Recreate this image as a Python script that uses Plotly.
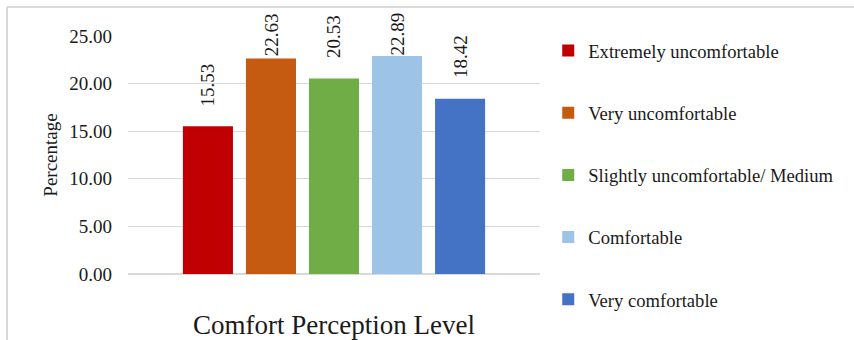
import plotly.graph_objects as go

# Survey result: share of respondents by comfort perception level
category = ["Comfort Perception Level"]
levels = [
    "Extremely uncomfortable",
    "Very uncomfortable",
    "Slightly uncomfortable/ Medium",
    "Comfortable",
    "Very comfortable",
]
percentages = [15.53, 22.63, 20.53, 22.89, 18.42]
colors = ["#C00000", "#C55A11", "#70AD47", "#9DC3E6", "#4472C4"]
y_ticks = [0, 5, 10, 15, 20, 25]

FONT = "Liberation Serif, Times New Roman, serif"
TXT = "#1a1a1a"

fig = go.Figure()
for i, (name, val, col) in enumerate(zip(levels, percentages, colors)):
    fig.add_trace(go.Bar(
        x=category, y=[val], name=name, marker=dict(color=col, line=dict(width=0)),
        legendgroup=f"g{i}", hoverinfo="skip",
    ))

# rotated value labels above each bar (positions follow the grouped bar slots)
BARGAP = 0.235
n = len(levels)
slot = (1 - BARGAP) / n
for i, val in enumerate(percentages):
    xpos = -0.5 * (1 - BARGAP) + slot * (i + 0.5)
    fig.add_annotation(
        x=xpos, y=min(val + 1.9, 22.7), xref="x", yref="y",
        text=f"{val:.2f}", textangle=-90, showarrow=False,
        xanchor="center", yanchor="bottom",
        font=dict(family=FONT, size=19, color=TXT),
    )

# outer chart border (top and left edges visible)
fig.add_shape(type="line", xref="paper", yref="paper",
              x0=-0.2937, x1=2.0, y0=1.1218, y1=1.1218,
              line=dict(color="#d9d9d9", width=2))
fig.add_shape(type="line", xref="paper", yref="paper",
              x0=-0.2937, x1=-0.2937, y0=-0.5, y1=1.1218,
              line=dict(color="#d9d9d9", width=2))

fig.update_layout(
    width=854, height=340,
    margin=dict(l=128, r=314, t=36, b=66),
    paper_bgcolor="white", plot_bgcolor="white",
    barmode="group", bargap=BARGAP, bargroupgap=0.206,
    font=dict(family=FONT, size=19, color=TXT),
    showlegend=True,
    legend=dict(
        x=1.02, y=1.017, xanchor="left", yanchor="top",
        traceorder="grouped", tracegroupgap=35, maxheight=340,
        font=dict(family=FONT, size=18.6, color=TXT),
        bgcolor="rgba(0,0,0,0)", itemclick=False,
    ),
    xaxis=dict(
        showticklabels=False, showgrid=False, zeroline=False, showline=False,
        ticks="", range=[-0.5, 0.5], automargin=False,
        title=dict(text="Comfort Perception Level", standoff=41,
                   font=dict(family=FONT, size=27, color=TXT)),
    ),
    yaxis=dict(
        range=[0, 25], tickvals=y_ticks, tickformat=".2f",
        showgrid=True, gridcolor="#d9d9d9", gridwidth=1,
        zeroline=True, zerolinecolor="#d9d9d9", zerolinewidth=2,
        showline=False, ticks="", ticklabelstandoff=15, automargin=False,
        tickfont=dict(family=FONT, size=19, color=TXT),
        title=dict(text="Percentage", standoff=6,
                   font=dict(family=FONT, size=19, color=TXT)),
    ),
)

fig.write_html("out.html")
